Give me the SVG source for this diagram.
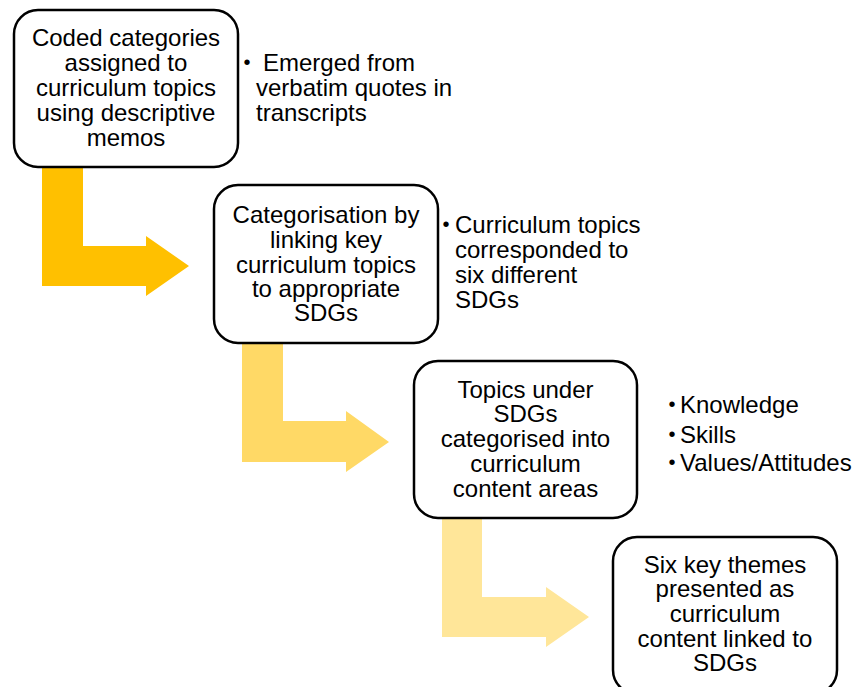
<svg xmlns="http://www.w3.org/2000/svg" width="857" height="687" viewBox="0 0 857 687">
<style>
.box{fill:#fff;stroke:#000;stroke-width:2.5}
text{font-family:"Liberation Sans",Arial,sans-serif;font-size:24px;fill:#000}
.c{text-anchor:middle}
.b{font-size:20px;text-anchor:middle}
</style>
<rect width="857" height="687" fill="#fff"/>
<g id="connectors">
<path d="M42,167 H83 V246 H146 V236 L189,266 L146,296 V286 H42 Z" fill="#FFC000"/>
<path d="M242,343 H283 V421 H346 V411 L389,442 L346,472 V462 H242 Z" fill="#FFD966"/>
<path d="M442,518 H482 V597 H546 V587 L589,617 L546,647 V637 H442 Z" fill="#FFE699"/>
</g>
<g id="node1">
<rect class="box" x="14" y="10" width="224" height="157" rx="24"/>
<text class="c" x="126" y="46">Coded categories</text>
<text class="c" x="126" y="71">assigned to</text>
<text class="c" x="126" y="96">curriculum topics</text>
<text class="c" x="126" y="121">using descriptive</text>
<text class="c" x="126" y="146">memos</text>
</g>
<g id="notes1">
<text class="b" x="247" y="69">•</text>
<text x="263" y="71">Emerged from</text>
<text x="256" y="96">verbatim quotes in</text>
<text x="256" y="121">transcripts</text>
</g>
<g id="node2">
<rect class="box" x="214" y="185" width="224" height="158" rx="24"/>
<text class="c" x="326" y="223">Categorisation by</text>
<text class="c" x="326" y="248">linking key</text>
<text class="c" x="326" y="273">curriculum topics</text>
<text class="c" x="326" y="297">to appropriate</text>
<text class="c" x="326" y="321">SDGs</text>
</g>
<g id="notes2">
<text class="b" x="446" y="231">•</text>
<text x="455" y="233">Curriculum topics</text>
<text x="455" y="258">corresponded to</text>
<text x="455" y="283">six different</text>
<text x="455" y="308">SDGs</text>
</g>
<g id="node3">
<rect class="box" x="414" y="361" width="223" height="157" rx="24"/>
<text class="c" x="525.5" y="398">Topics under</text>
<text class="c" x="525.5" y="422">SDGs</text>
<text class="c" x="525.5" y="447">categorised into</text>
<text class="c" x="525.5" y="472">curriculum</text>
<text class="c" x="525.5" y="497">content areas</text>
</g>
<g id="notes3">
<text class="b" x="672" y="411">•</text>
<text x="680" y="413">Knowledge</text>
<text class="b" x="672" y="441">•</text>
<text x="680" y="443">Skills</text>
<text class="b" x="672" y="469">•</text>
<text x="680" y="471">Values/Attitudes</text>
</g>
<g id="node4">
<rect class="box" x="613" y="537" width="224" height="157" rx="24"/>
<text class="c" x="725" y="573">Six key themes</text>
<text class="c" x="725" y="597">presented as</text>
<text class="c" x="725" y="622">curriculum</text>
<text class="c" x="725" y="647">content linked to</text>
<text class="c" x="725" y="671">SDGs</text>
</g>
</svg>
